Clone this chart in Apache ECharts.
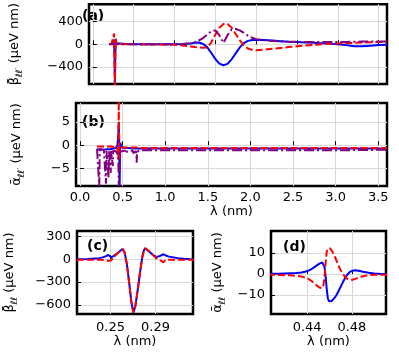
<!DOCTYPE html>
<html>
<head>
<meta charset="utf-8">
<script src="https://cdn.jsdelivr.net/npm/echarts@6.0.0/dist/echarts.min.js"></script>
<style>
    html, body { margin: 0; padding: 0; background: #fff; }
    #chart { width: 399px; height: 359px; }
</style>
</head>
<body>
<div id="chart"></div>
<script>
// panel (a): beta over the full lambda range
const aLambda = [0.2, 0.23, 0.25, 0.26, 0.265, 0.27, 0.275, 0.28, 0.29, 0.31, 0.4, 0.6, 0.8, 1.0, 1.1, 1.2, 1.25, 1.3, 1.35, 1.4, 1.45, 1.5, 1.55, 1.6, 1.65, 1.7, 1.75, 1.8, 1.85, 1.9, 1.95, 2.0, 2.1, 2.2, 2.3, 2.4, 2.5, 2.6, 2.7, 2.8, 2.9, 3.0, 3.1, 3.2, 3.3, 3.4, 3.5, 3.6]
const aBlue = [5, 10, 30, 80, -200, -720, -200, 90, 20, 10, 5, 2, 0, 0, 5, 15, 25, 30, 5, -50, -150, -260, -340, -370, -345, -265, -160, -55, 20, 60, 75, 80, 75, 65, 55, 45, 38, 30, 25, 18, 10, 0, -15, -35, -35, -25, -15, -8]
const aRed = [0, 10, 40, 190, -300, -720, -300, 100, 10, 0, 0, -2, -5, -10, -20, -40, -50, -58, -62, -55, 30, 170, 290, 355, 355, 290, 180, 70, -20, -75, -98, -105, -95, -80, -65, -50, -35, -22, -10, 0, 8, 15, 20, 25, 30, 35, 38, 40]
const aPurple = [0, 0, 5, 10, 10, 10, 10, 5, 0, 0, 0, 0, 0, 2, 5, 20, 40, 70, 110, 170, 230, 245, 160, 25, 160, 260, 270, 245, 200, 150, 115, 90, 70, 58, 50, 45, 42, 40, 38, 38, 38, 40, 42, 45, 48, 50, 50, 48]

// panel (b): alpha over the full lambda range
const bLambda = [0.2, 0.22, 0.226, 0.232, 0.25, 0.28, 0.3, 0.305, 0.31, 0.33, 0.335, 0.34, 0.355, 0.36, 0.365, 0.38, 0.385, 0.39, 0.42, 0.44, 0.45, 0.455, 0.46, 0.465, 0.47, 0.475, 0.48, 0.5, 0.53, 0.545, 0.55, 0.555, 0.58, 0.62, 0.625, 0.63, 0.66, 0.665, 0.67, 0.7, 0.8, 1.0, 1.5, 2.0, 2.5, 3.0, 3.5, 3.6]
const bBlue = [-0.8, -0.9, -1.0, -1.0, -1.0, -1.0, -1.0, -0.9, -0.9, -0.9, -0.9, -0.9, -0.8, -0.8, -0.8, -0.8, -0.8, -0.7, -0.6, 0, 2.5, 5, 1.5, -8.8, -1.0, 0.5, 0, -0.5, -0.6, -0.6, -0.6, -0.6, -0.6, -0.7, -0.7, -0.7, -0.7, -0.7, -0.7, -0.7, -0.7, -0.7, -0.7, -0.7, -0.7, -0.7, -0.7, -0.7]
const bRed = [-0.3, -0.3, -0.3, -0.3, -0.3, -0.3, -0.3, -0.3, -0.3, -0.3, -0.3, -0.3, -0.3, -0.3, -0.3, -0.3, -0.4, -0.4, -0.4, -1.0, -3, 9.5, -3, -0.5, -0.3, -0.4, -0.5, -0.5, -0.5, -0.5, -0.5, -0.5, -0.5, -0.5, -0.5, -0.5, -0.5, -0.5, -0.5, -0.6, -0.6, -0.6, -0.6, -0.6, -0.6, -0.6, -0.6, -0.6]
const bPurple = [-0.8, -0.8, -8.8, -0.8, -0.9, -1.0, -1.0, -8.3, -1.2, -1.2, -7, -1.3, -1.2, -6, -1.2, -1.2, -4.5, -1.2, -1.3, -1.8, -3, -8.8, -8.8, -3, -1.5, -1.2, -1.3, -1.2, -1.2, -1.2, -1.8, -1.3, -1.2, -1.2, -1.7, -1.3, -1.3, -3.8, -1.4, -1.1, -1.1, -1.1, -1.1, -1.1, -1.1, -1.1, -1.0, -1.0]

// panel (c): beta near the 0.27 nm feature
const cLambda = [0.22, 0.23, 0.24, 0.243, 0.246, 0.248, 0.2505, 0.253, 0.256, 0.259, 0.2608, 0.2625, 0.2645, 0.2665, 0.2685, 0.2703, 0.272, 0.274, 0.276, 0.278, 0.2795, 0.2807, 0.283, 0.286, 0.2904, 0.294, 0.297, 0.299, 0.302, 0.306, 0.31, 0.315, 0.32, 0.325]
const cBlue = [0, 3, 15, 25, 42, 57, 26, 45, 80, 115, 135, 90, -60, -300, -560, -700, -620, -420, -200, 10, 110, 145, 120, 80, 26, 45, 66, 50, 35, 25, 15, 8, 3, 0]
const cRed = [-5, -5, -5, -8, -15, -20, -15, 30, 75, 112, 135, 90, -60, -300, -560, -700, -620, -420, -200, 10, 110, 145, 120, 80, 20, -10, -40, -5, -5, -5, -5, -5, -5, -5]

// panel (d): alpha near the 0.455 nm feature
const dLambda = [0.405, 0.415, 0.425, 0.43, 0.435, 0.438, 0.441, 0.444, 0.4465, 0.449, 0.451, 0.4525, 0.4535, 0.4545, 0.4555, 0.4565, 0.4575, 0.4585, 0.4595, 0.4605, 0.462, 0.4635, 0.465, 0.4665, 0.468, 0.47, 0.472, 0.474, 0.476, 0.478, 0.4805, 0.483, 0.486, 0.49, 0.495, 0.5, 0.505, 0.512]
const dBlue = [0.1, 0.2, 0.4, 0.5, 0.8, 1.1, 1.6, 2.4, 3.3, 4.3, 5.0, 5.4, 5.5, 5.0, 3.5, -1, -7, -11.5, -12.9, -13.1, -12.8, -12.0, -11.0, -9.7, -8.2, -6.0, -3.8, -1.8, -0.2, 0.9, 1.6, 1.8, 1.6, 1.1, 0.6, 0.3, 0.15, 0.05]
const dRed = [-0.3, -0.4, -0.6, -0.8, -1.2, -1.6, -2.3, -3.3, -4.5, -5.6, -6.4, -6.8, -6.8, -5.5, -1.5, 5, 10.5, 12.3, 12.5, 12.2, 11.2, 9.8, 8.0, 6.0, 4.0, 1.8, 0, -1.4, -2.3, -2.7, -2.7, -2.3, -1.7, -1.0, -0.5, -0.3, -0.3, -0.3]

// tick labels
const abTicksX = [0, 0.5, 1.0, 1.5, 2.0, 2.5, 3.0, 3.5]
const aTicksY = [-400, 0, 400]
const bTicksY = [-5, 0, 5]
const cTicksX = [0.25, 0.29]
const cTicksY = [-600, -300, 0, 300]
const dTicksX = [0.44, 0.48]
const dTicksY = [-10, 0, 10]

const font = 'DejaVu Sans'
const BLUE = '#0000ff'
const RED = '#ff0000'
const PURPLE = '#800080'

function pairs (xs, ys) {
    return xs.map((x, i) => [x, ys[i]])
}

function fmt (digits) {
    return function (v) {
        return Number(v).toFixed(digits).replace('-', '\u2212')
    }
}

const nameRich = {
    m: { fontSize: 13, fontFamily: font, color: '#000', padding: [0, 0, 3, 0], verticalAlign: 'bottom' },
    s: { fontSize: 9, fontFamily: font, color: '#000', verticalAlign: 'bottom' }
}

function xAxis (gridIndex, min, max, ticks, digits, showLabel, margin, nameGap) {
    return {
        type: 'value',
        gridIndex: gridIndex,
        min: min,
        max: max,
        name: showLabel ? 'λ (nm)' : '',
        nameLocation: 'middle',
        nameGap: nameGap,
        nameTextStyle: { fontFamily: font, fontSize: 13, color: '#000' },
        axisLine: { show: false },
        axisTick: { show: true, inside: true, length: 4, customValues: ticks, lineStyle: { color: '#000', width: 1 } },
        axisLabel: { show: showLabel, customValues: ticks, margin: margin, formatter: fmt(digits), fontFamily: font, fontSize: 13, color: '#000' },
        splitLine: { show: true, lineStyle: { color: '#d8d8d8', width: 1 } }
    }
}

function yAxis (gridIndex, min, max, ticks, name, nameGap) {
    return {
        type: 'value',
        gridIndex: gridIndex,
        min: min,
        max: max,
        name: name,
        nameLocation: 'middle',
        nameGap: nameGap,
        nameTextStyle: { rich: nameRich },
        axisLine: { show: false },
        axisTick: { show: true, inside: true, length: 4, customValues: ticks, lineStyle: { color: '#000', width: 1 } },
        axisLabel: { customValues: ticks, margin: 6, formatter: fmt(0), fontFamily: font, fontSize: 13, color: '#000' },
        splitLine: { show: true, lineStyle: { color: '#d8d8d8', width: 1 } }
    }
}

function line (idx, xs, ys, color, type) {
    return {
        type: 'line',
        xAxisIndex: idx,
        yAxisIndex: idx,
        data: pairs(xs, ys),
        showSymbol: false,
        lineStyle: { color: color, width: 2, type: type },
        itemStyle: { color: color }
    }
}

function panelLabel (text, left, top) {
    return {
        type: 'text',
        left: left,
        top: top,
        style: { text: text, fontFamily: font, fontWeight: 'bold', fontSize: 14, fill: '#000' }
    }
}

const DASH = [7, 3]
const DASHDOT = [10, 3, 2, 3]
const frame = { show: true, borderColor: '#000', borderWidth: 2.5, backgroundColor: 'transparent' }

const chart = echarts.init(document.getElementById('chart'))
chart.setOption({
    animation: false,
    grid: [
        Object.assign({ left: 76, top: 3, width: 311, height: 81 }, frame),
        Object.assign({ left: 76, top: 103, width: 311, height: 83 }, frame),
        Object.assign({ left: 77, top: 231, width: 116, height: 83 }, frame),
        Object.assign({ left: 271, top: 231, width: 115, height: 83 }, frame)
    ],
    xAxis: [
        xAxis(0, -0.047, 3.603, abTicksX, 1, false, 5, 18),
        xAxis(1, -0.047, 3.603, abTicksX, 1, true, 5, 18),
        xAxis(2, 0.2202, 0.3233, cTicksX, 2, true, 7, 21),
        xAxis(3, 0.4077, 0.5105, dTicksX, 2, true, 7, 21)
    ],
    yAxis: [
        yAxis(0, -700, 705, aTicksY, '{m|β̄}{s|ℓℓ′}{m| (μeV nm)}', 65),
        yAxis(1, -8.8, 9.1, bTicksY, '{m|ᾱ}{s|ℓℓ′}{m| (μeV nm)}', 50),
        yAxis(2, -720, 372, cTicksY, '{m|β̄}{s|ℓℓ}{m| (μeV nm)}', 58),
        yAxis(3, -19, 20.5, dTicksY, '{m|ᾱ}{s|ℓℓ}{m| (μeV nm)}', 44)
    ],
    graphic: [
        panelLabel('(a)', 82, 9),
        panelLabel('(b)', 82, 115),
        panelLabel('(c)', 87, 239),
        panelLabel('(d)', 283, 240)
    ],
    series: [
        line(0, aLambda, aBlue, BLUE, 'solid'),
        line(0, aLambda, aRed, RED, DASH),
        line(0, aLambda, aPurple, PURPLE, DASHDOT),
        line(1, bLambda, bBlue, BLUE, 'solid'),
        line(1, bLambda, bRed, RED, DASH),
        line(1, bLambda, bPurple, PURPLE, DASHDOT),
        line(2, cLambda, cBlue, BLUE, 'solid'),
        line(2, cLambda, cRed, RED, DASH),
        line(3, dLambda, dBlue, BLUE, 'solid'),
        line(3, dLambda, dRed, RED, DASH)
    ]
})
</script>
</body>
</html>
